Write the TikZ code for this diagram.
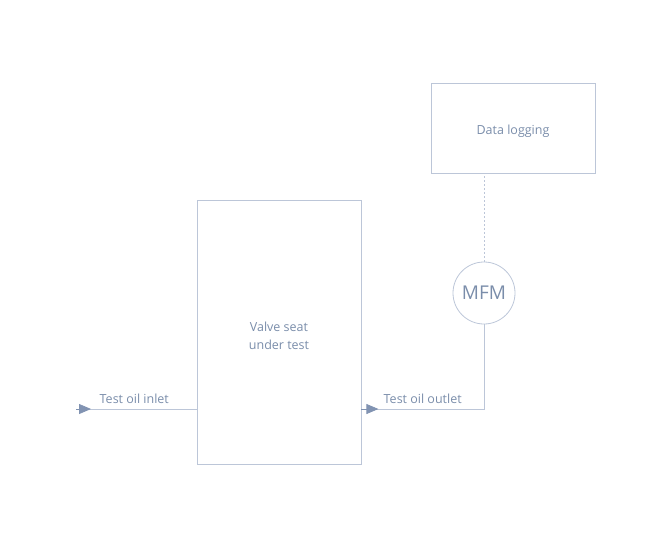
\documentclass[tikz,border=0pt]{standalone}
\usepackage{fontspec}
\setmainfont{Open Sans}
\usetikzlibrary{arrows.meta}
\definecolor{linegray}{HTML}{BCC6D8}
\definecolor{textblue}{HTML}{7A8DAA}
\definecolor{tipblue}{HTML}{8193B2}
\tikzset{
  box/.style={draw=linegray,line width=0.8pt,minimum width=164pt},
  boxtext/.style={align=center,text=textblue,font=\fontsize{12.5}{18}\selectfont,yshift=-4pt},
  pipe/.style={draw=linegray,line width=0.8pt},
  tip/.style={-{Triangle[length=12pt,width=10pt]},color=tipblue,line width=0.8pt},
  lbl/.style={text=textblue,font=\fontsize{12.5}{15}\selectfont,above,inner sep=4.5pt}
}
\begin{document}
\begin{tikzpicture}[x=1pt,y=-1pt]
\useasboundingbox (0,0) rectangle (668,543);
% blocks
\node[box,minimum height=264pt,label={[boxtext]center:Valve seat\\under test}] (valve) at (279,332) {};
\node[box,minimum height=90pt,label={[boxtext,yshift=1pt]center:Data logging}] (log) at (513,128) {};
\node[draw=linegray,line width=0.8pt,circle,minimum size=62pt,inner sep=0pt,
  text=textblue,font=\fontsize{19}{22}\selectfont] (mfm) at (484,293) {MFM};
% in and out
\coordinate (in) at (76,409);
\coordinate (bend) at (484,409);
\draw[pipe] (in) -- node[lbl,xshift=-2pt] {Test oil inlet} (valve.west |- in);
\draw[tip] (in) -- ++(15,0);
\draw[pipe] (valve.east |- in) -- node[lbl] {Test oil outlet} (bend) -- (mfm.south);
\draw[tip] (valve.east |- in) -- ++(17,0);
% signal
\draw[pipe,dashed,dash pattern=on 2pt off 2pt,line width=0.5pt] (mfm.north) -- (mfm.north |- log.south);
\end{tikzpicture}
\end{document}
